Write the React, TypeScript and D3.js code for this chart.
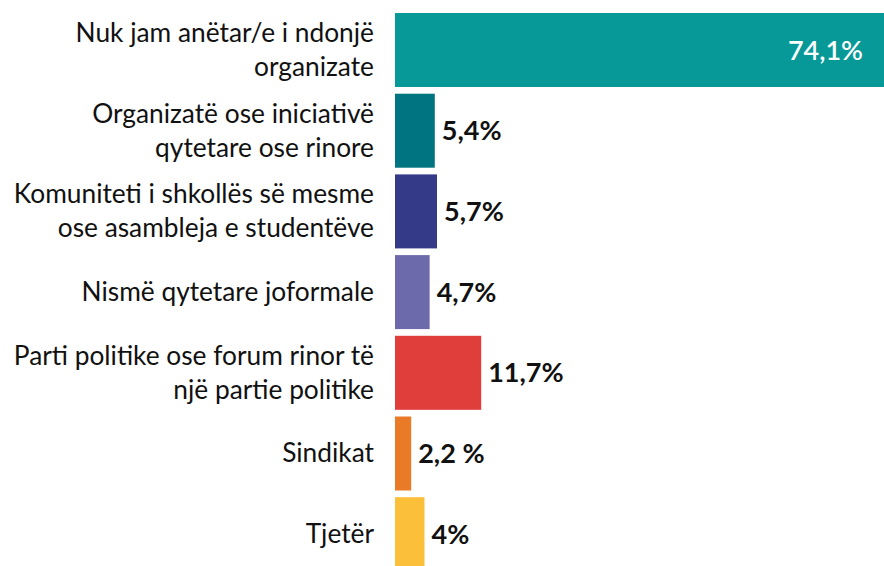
import React from "react";
import * as d3 from "d3";

const categories = [
  "Nuk jam anëtar/e i ndonjë\norganizate",
  "Organizatë ose iniciativë\nqytetare ose rinore",
  "Komuniteti i shkollës së mesme\nose asambleja e studentëve",
  "Nismë qytetare joformale",
  "Parti politike ose forum rinor të\nnjë partie politike",
  "Sindikat",
  "Tjetër",
];
const values = [74.1, 5.4, 5.7, 4.7, 11.7, 2.2, 4];
const valueLabels = ["74,1%", "5,4%", "5,7%", "4,7%", "11,7%", "2,2 %", "4%"];
const colors = ["#069997", "#007480", "#343a88", "#6c6aaa", "#e03e3a", "#e87a28", "#fbbf3a"];

const W = 884;
const H = 566;
const FONT = "Lato, 'Open Sans', sans-serif";

export default function App() {
  const x = d3.scaleLinear().domain([0, 74.1]).range([395, 941]);
  const y = d3
    .scaleBand<string>()
    .domain(categories)
    .range([13, 571.2])
    .paddingInner(0.083)
    .paddingOuter(0);
  const bw = y.bandwidth();
  const lineH = 34;

  return (
    <svg
      width={W}
      height={H}
      style={{ position: "absolute", left: 0, top: 0, display: "block", background: "#fff" }}
      fontFamily={FONT}
    >
      <defs>
        <clipPath id="plotclip">
          <rect x={0} y={0} width={W} height={H} />
        </clipPath>
      </defs>
      <g clipPath="url(#plotclip)">
        {categories.map((c, i) => {
          const y0 = y(c) as number;
          const cy = y0 + bw / 2;
          const lines = c.split("\n");
          const first = cy - ((lines.length - 1) * lineH) / 2 + 9;
          const inside = i === 0;
          return (
            <g key={c}>
              <rect x={x(0)} y={y0} width={x(values[i]) - x(0)} height={bw} fill={colors[i]} />
              <text x={374} textAnchor="end" fontSize={26.3} fill="#111">
                {lines.map((l, k) => (
                  <tspan key={k} x={374} y={first + k * lineH}>
                    {l}
                  </tspan>
                ))}
              </text>
              <text
                x={inside ? 863 : x(values[i]) + 7}
                y={cy + 9.5}
                textAnchor={inside ? "end" : "start"}
                fontSize={inside ? 27 : 27}
                fontWeight={inside ? 600 : 700}
                fill={inside ? "#fff" : "#111"}
              >
                {valueLabels[i]}
              </text>
            </g>
          );
        })}
      </g>
    </svg>
  );
}
